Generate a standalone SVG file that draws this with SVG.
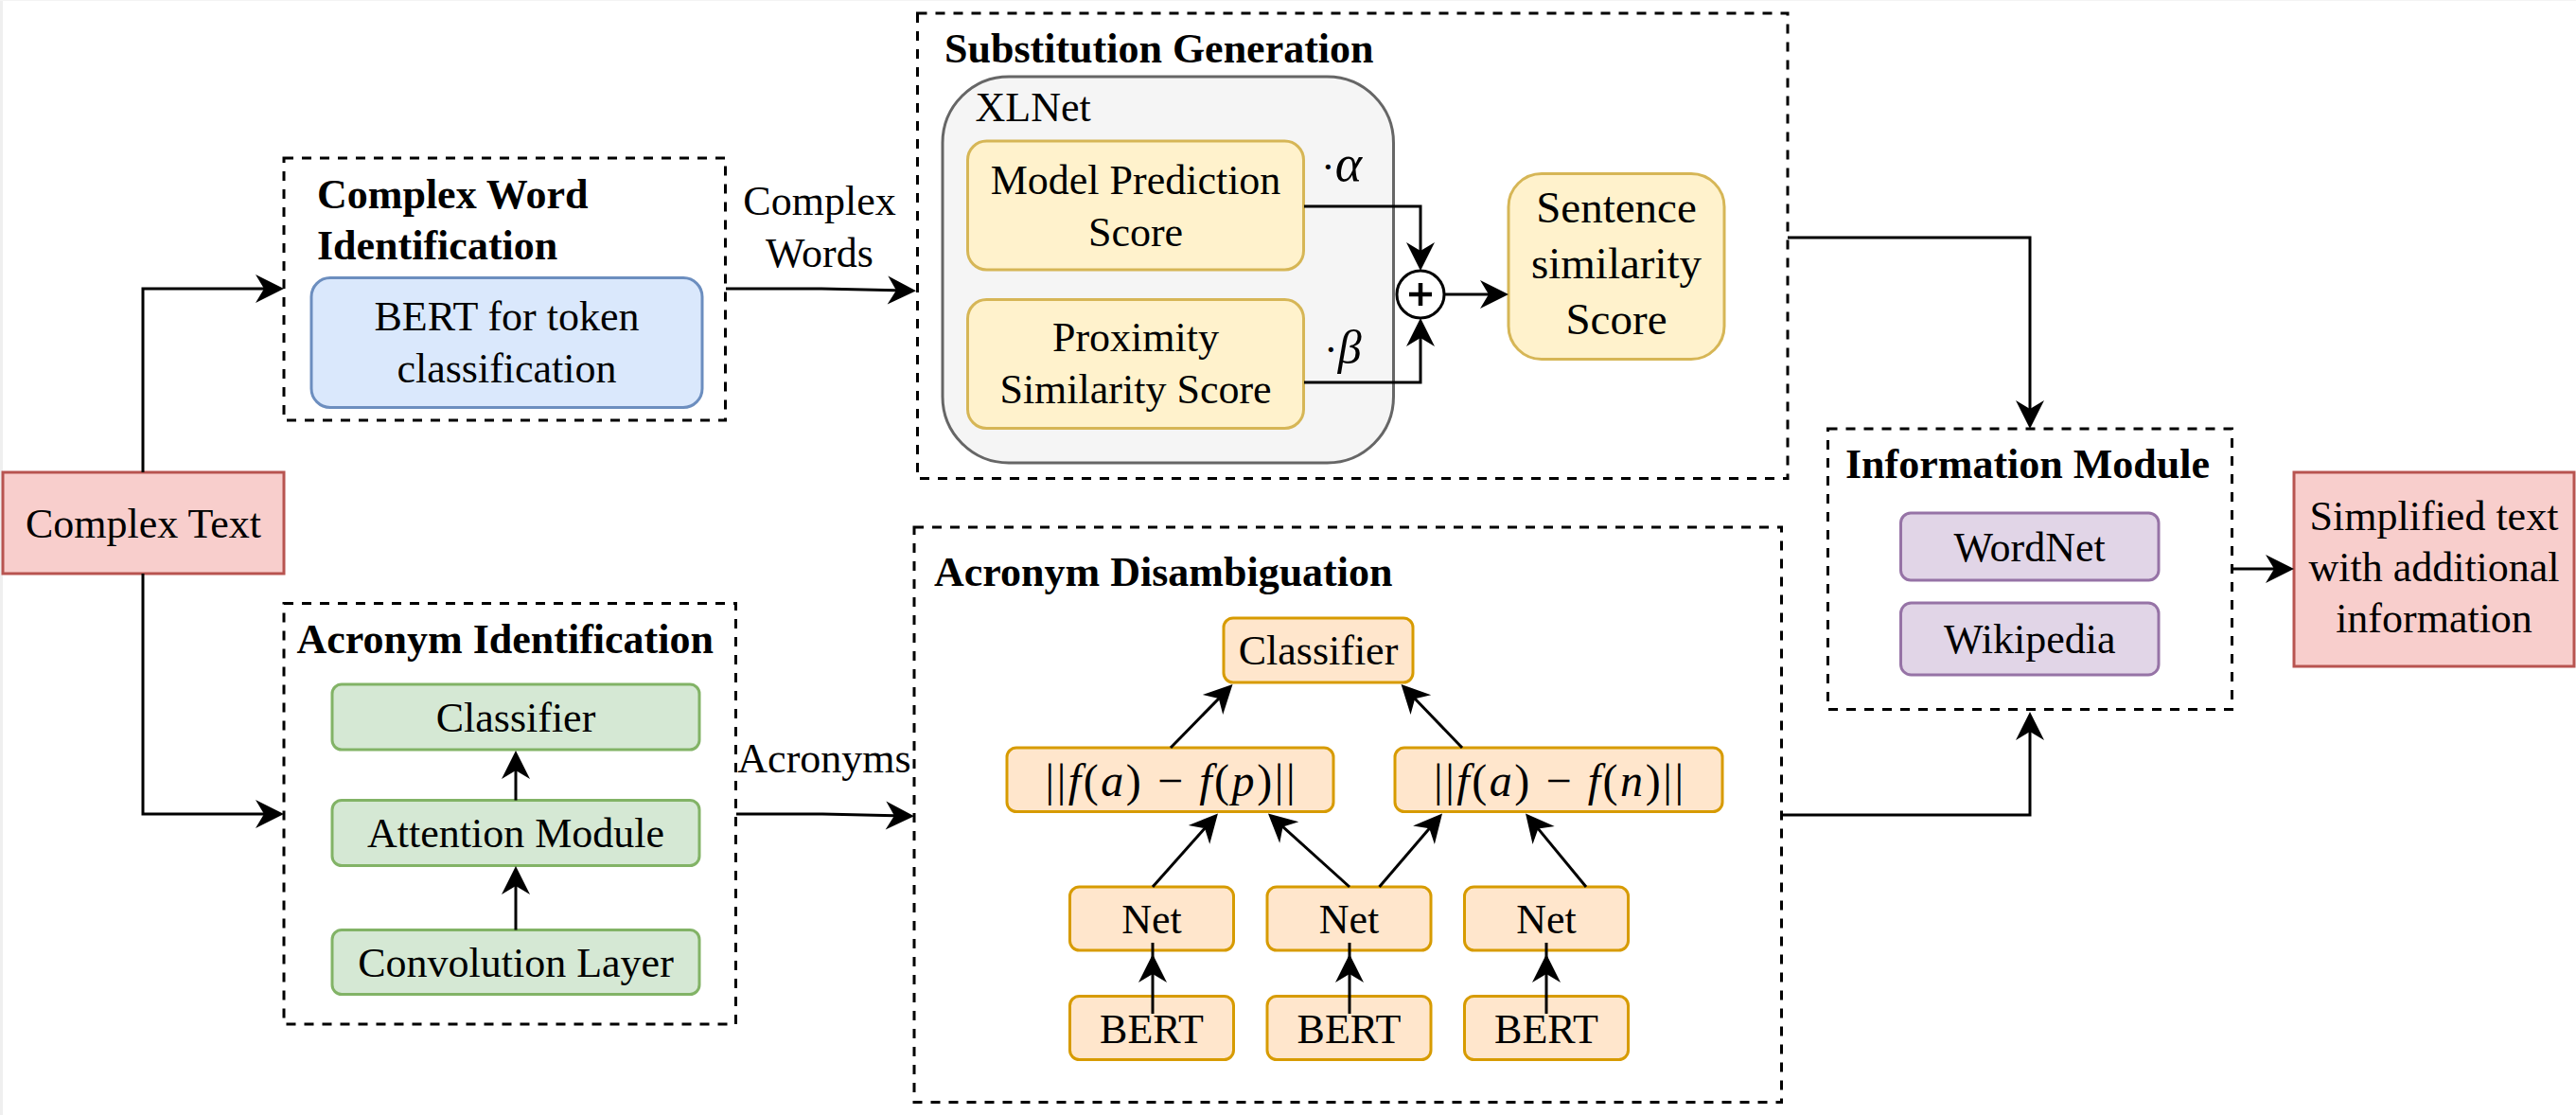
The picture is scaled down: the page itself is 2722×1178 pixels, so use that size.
<svg xmlns="http://www.w3.org/2000/svg" width="2722" height="1178" viewBox="0 0 2722 1178">
<defs>
<style>
.t{font-family:"Liberation Serif","Times New Roman",serif;font-size:44px;fill:#000}
.b{font-weight:bold}
.c{text-anchor:middle}
.i{font-style:italic}
.m{font-size:48px}
.dash{fill:none;stroke:#000;stroke-width:3;stroke-dasharray:10 9}
.edge{fill:none;stroke:#000;stroke-width:3}
.red{fill:#f8cecc;stroke:#b85450;stroke-width:3}
.blue{fill:#dae8fc;stroke:#6c8ebf;stroke-width:3}
.green{fill:#d5e8d4;stroke:#82b366;stroke-width:3}
.yellow{fill:#fff2cc;stroke:#d6b656;stroke-width:3}
.orange{fill:#ffe6cc;stroke:#d79b00;stroke-width:3}
.purple{fill:#e1d5e7;stroke:#9673a6;stroke-width:3}
.gray{fill:#f5f5f5;stroke:#666666;stroke-width:3}
</style>
<marker id="arr" markerUnits="userSpaceOnUse" markerWidth="30" markerHeight="30" refX="20" refY="15" orient="auto" overflow="visible">
<path d="M0,0 L30,15 L0,30 L9,15 Z" fill="#000"/>
</marker>
</defs>
<rect x="0" y="0" width="2722" height="1178" fill="#ffffff"/>
<rect x="0" y="0" width="3" height="1178" fill="#efefef"/>
<rect x="0" y="0" width="2722" height="1" fill="#f4f4f4"/>

<g id="complex-text">
<rect class="red" x="3" y="499" width="297" height="107"/>
<text class="t c" x="151.5" y="567.5">Complex Text</text>
</g>

<g id="complex-word-identification">
<rect class="dash" x="300" y="167" width="466.5" height="277"/>
<text class="t b" x="335" y="220">Complex Word</text>
<text class="t b" x="335" y="274">Identification</text>
</g>
<g id="bert-token">
<rect class="blue" x="329" y="293.5" width="413" height="137" rx="20" ry="20"/>
<text class="t c" x="535.5" y="349">BERT for token</text>
<text class="t c" x="535.5" y="404">classification</text>
</g>

<g id="substitution-generation">
<rect class="dash" x="969.5" y="14" width="919.5" height="491.5"/>
<text class="t b" x="998" y="66">Substitution Generation</text>
</g>
<g id="xlnet">
<rect class="gray" x="996" y="81" width="476.5" height="408" rx="70" ry="70"/>
<text class="t" x="1030.5" y="127.5">XLNet</text>
</g>
<g id="model-prediction-score">
<rect class="yellow" x="1022.5" y="149" width="355" height="136" rx="20" ry="20"/>
<text class="t c" x="1200" y="204.5">Model Prediction</text>
<text class="t c" x="1200" y="259.5">Score</text>
</g>
<g id="proximity-similarity-score">
<rect class="yellow" x="1022.5" y="316.5" width="355" height="136" rx="20" ry="20"/>
<text class="t c" x="1200" y="371">Proximity</text>
<text class="t c" x="1200" y="426">Similarity Score</text>
</g>
<g id="plus">
<circle cx="1501" cy="311" r="25" fill="#fff" stroke="#000" stroke-width="3"/>
<path d="M1489,311 H1513 M1501,299 V323" stroke="#000" stroke-width="4.5" fill="none"/>
</g>
<g id="sentence-similarity-score">
<rect class="yellow" x="1594" y="183.5" width="228" height="196" rx="35" ry="35"/>
<text class="t c" x="1708" y="234.5" style="font-size:47px">Sentence</text>
<text class="t c" x="1708" y="293.5" style="font-size:47px">similarity</text>
<text class="t c" x="1708" y="352.5" style="font-size:47px">Score</text>
</g>

<g id="acronym-identification">
<rect class="dash" x="300" y="637.5" width="477.5" height="444.5"/>
<text class="t b" x="313.5" y="690">Acronym Identification</text>
</g>
<g id="ai-classifier">
<rect class="green" x="351" y="723" width="388" height="69" rx="10" ry="10"/>
<text class="t c" x="545" y="772.5">Classifier</text>
</g>
<g id="attention-module">
<rect class="green" x="351" y="845.5" width="388" height="69" rx="10" ry="10"/>
<text class="t c" x="545" y="895">Attention Module</text>
</g>
<g id="convolution-layer">
<rect class="green" x="351" y="982.5" width="388" height="68" rx="10" ry="10"/>
<text class="t c" x="545" y="1031.5">Convolution Layer</text>
</g>

<g id="acronym-disambiguation">
<rect class="dash" x="966" y="557" width="916.5" height="607.5"/>
<text class="t b" x="987" y="619">Acronym Disambiguation</text>
</g>
<g id="ad-classifier">
<rect class="orange" x="1293" y="653" width="200" height="68" rx="10" ry="10"/>
<text class="t c" x="1393" y="702">Classifier</text>
</g>
<g id="dist-p">
<rect class="orange" x="1064" y="790" width="345" height="67.5" rx="10" ry="10"/>
<text class="t c m" x="1236.5" y="841" textLength="264" lengthAdjust="spacing">||<tspan class="i">f</tspan>(<tspan class="i">a</tspan>) − <tspan class="i">f</tspan>(<tspan class="i">p</tspan>)||</text>
</g>
<g id="dist-n">
<rect class="orange" x="1474" y="790" width="346" height="67.5" rx="10" ry="10"/>
<text class="t c m" x="1647" y="841" textLength="264" lengthAdjust="spacing">||<tspan class="i">f</tspan>(<tspan class="i">a</tspan>) − <tspan class="i">f</tspan>(<tspan class="i">n</tspan>)||</text>
</g>
<g id="net-1">
<rect class="orange" x="1130.5" y="937" width="173" height="67" rx="10" ry="10"/>
<text class="t c" x="1217" y="985.5">Net</text>
</g>
<g id="net-2">
<rect class="orange" x="1339" y="937" width="173" height="67" rx="10" ry="10"/>
<text class="t c" x="1425.5" y="985.5">Net</text>
</g>
<g id="net-3">
<rect class="orange" x="1547.5" y="937" width="173" height="67" rx="10" ry="10"/>
<text class="t c" x="1634" y="985.5">Net</text>
</g>
<g id="bert-1">
<rect class="orange" x="1130.5" y="1052.5" width="173" height="67" rx="10" ry="10"/>
<text class="t c" x="1217" y="1101.5">BERT</text>
</g>
<g id="bert-2">
<rect class="orange" x="1339" y="1052.5" width="173" height="67" rx="10" ry="10"/>
<text class="t c" x="1425.5" y="1101.5">BERT</text>
</g>
<g id="bert-3">
<rect class="orange" x="1547.5" y="1052.5" width="173" height="67" rx="10" ry="10"/>
<text class="t c" x="1634" y="1101.5">BERT</text>
</g>

<g id="information-module">
<rect class="dash" x="1931.5" y="453" width="427" height="296.5"/>
<text class="t b" x="1950" y="504.5">Information Module</text>
</g>
<g id="wordnet">
<rect class="purple" x="2008.5" y="542" width="272.5" height="71" rx="10.5" ry="10.5"/>
<text class="t c" x="2144.7" y="592.5">WordNet</text>
</g>
<g id="wikipedia">
<rect class="purple" x="2008.5" y="637" width="272.5" height="76" rx="11" ry="11"/>
<text class="t c" x="2144.7" y="690">Wikipedia</text>
</g>

<g id="simplified-text">
<rect class="red" x="2424" y="499" width="296" height="205"/>
<text class="t c" x="2572" y="560">Simplified text</text>
<text class="t c" x="2572" y="614">with additional</text>
<text class="t c" x="2572" y="668">information</text>
</g>

<g id="connectors">
<path class="edge" d="M151,499 L151,305 L290,305" marker-end="url(#arr)"/>
<path class="edge" d="M151,606 L151,860 L290,860" marker-end="url(#arr)"/>
<path class="edge" d="M767,305 L868,305 L958,307" marker-end="url(#arr)"/>
<path class="edge" d="M778,860 L869,860 L956,862" marker-end="url(#arr)"/>
<path class="edge" d="M1378,218 L1501,218 L1501,276" marker-end="url(#arr)"/>
<path class="edge" d="M1378,404 L1501,404 L1501,346" marker-end="url(#arr)"/>
<path class="edge" d="M1526,311 L1584,311" marker-end="url(#arr)"/>
<path class="edge" d="M1889,251 L2145,251 L2145,443" marker-end="url(#arr)"/>
<path class="edge" d="M1883,861 L2145,861 L2145,762" marker-end="url(#arr)"/>
<path class="edge" d="M2359,601 L2414,601" marker-end="url(#arr)"/>
<path class="edge" d="M545,845.5 L545,803" marker-end="url(#arr)"/>
<path class="edge" d="M545,982.5 L545,925" marker-end="url(#arr)"/>
<path class="edge" d="M1218,1071 L1218,1018 L1218,996" marker-mid="url(#arr)"/>
<path class="edge" d="M1426,1071 L1426,1018 L1426,996" marker-mid="url(#arr)"/>
<path class="edge" d="M1634,1071 L1634,1018 L1634,996" marker-mid="url(#arr)"/>
<path class="edge" d="M1218,937 L1280.3,866.9" marker-end="url(#arr)"/>
<path class="edge" d="M1426,937 L1347.4,866.1" marker-end="url(#arr)"/>
<path class="edge" d="M1457.5,937 L1517.5,867" marker-end="url(#arr)"/>
<path class="edge" d="M1676,937 L1618.4,867.1" marker-end="url(#arr)"/>
<path class="edge" d="M1237,790 L1295.5,730.2" marker-end="url(#arr)"/>
<path class="edge" d="M1545,790 L1487.5,730.2" marker-end="url(#arr)"/>
<text class="t c" x="866" y="226.5">Complex</text>
<text class="t c" x="866" y="281.5">Words</text>
<text class="t c" x="871" y="816">Acronyms</text>
<text class="t" x="1396" y="191">·<tspan class="i" style="font-size:54px">α</tspan></text>
<text class="t" x="1399" y="384">·<tspan class="i" style="font-size:50px">β</tspan></text>
</g>
</svg>
